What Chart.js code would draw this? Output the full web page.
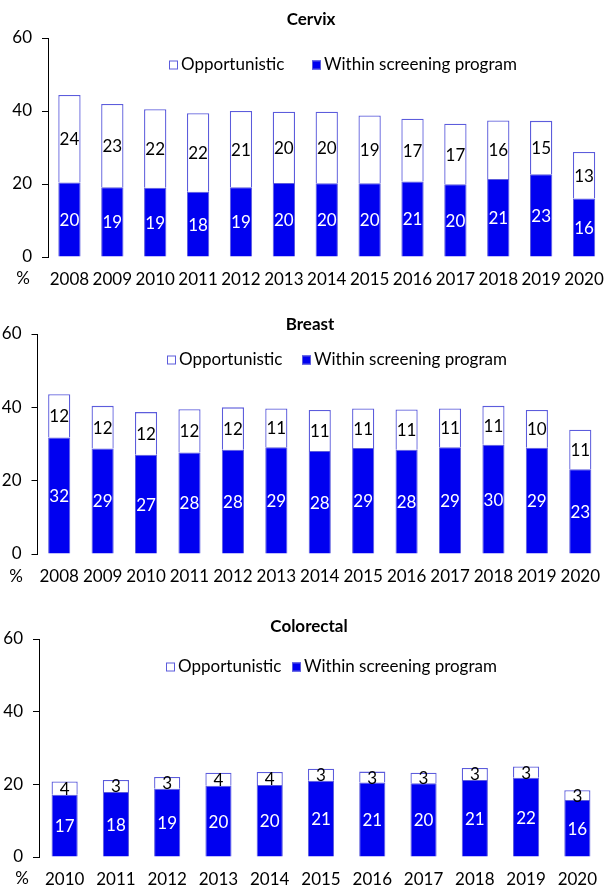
<!DOCTYPE html>
<html>
<head>
<meta charset="utf-8">
<script src="https://cdn.jsdelivr.net/npm/chart.js@4/dist/chart.umd.min.js"></script>
<style>
  body { margin: 0; background: #fff; }
  .box { position: absolute; left: 0; width: 616px; }
</style>
</head>
<body>
<div class="box" style="top:0;height:296px"><canvas id="cervixChart"></canvas></div>
<div class="box" style="top:296px;height:300px"><canvas id="breastChart"></canvas></div>
<div class="box" style="top:596px;height:300px"><canvas id="colorectalChart"></canvas></div>
<script>
// ===== Data =====
const cervixYears = ["2008", "2009", "2010", "2011", "2012", "2013", "2014", "2015", "2016", "2017", "2018", "2019", "2020"];
const cervixWithin = [20.4, 19.1, 19.0, 17.9, 19.1, 20.3, 20.2, 20.2, 20.7, 19.9, 21.4, 22.7, 16.0];
const cervixOpp = [24.0, 22.8, 21.5, 21.5, 20.9, 19.5, 19.6, 18.6, 17.2, 16.6, 16.0, 14.6, 12.8];

const breastYears = ["2008", "2009", "2010", "2011", "2012", "2013", "2014", "2015", "2016", "2017", "2018", "2019", "2020"];
const breastWithin = [31.8, 28.8, 27.1, 27.7, 28.4, 29.1, 28.1, 28.9, 28.4, 29.1, 29.8, 29.0, 23.1];
const breastOpp = [11.8, 11.6, 11.6, 11.8, 11.6, 10.6, 11.2, 10.8, 11.0, 10.6, 10.6, 10.3, 10.8];

const colorectalYears = ["2010", "2011", "2012", "2013", "2014", "2015", "2016", "2017", "2018", "2019", "2020"];
const colorectalWithin = [17.1, 17.9, 18.8, 19.6, 19.8, 21.0, 20.5, 20.3, 21.2, 21.8, 15.7];
const colorectalOpp = [3.7, 3.3, 3.2, 3.6, 3.6, 3.3, 3.0, 2.9, 3.3, 3.1, 2.7];

const yTicks = [0, 20, 40, 60];

const FONT = "Lato, 'Open Sans', sans-serif";
const SIZE = 17;
const BLUE = "#0000F0";
const EDGE = "#5C5CDC";

// ===== Overlay: title, legend, segment labels, % sign =====
const overlay = {
  id: "overlay",
  afterDatasetsDraw(chart, args, o) {
    const ctx = chart.ctx;
    ctx.save();

    // segment labels
    ctx.font = SIZE + "px " + FONT;
    ctx.textAlign = "center";
    ctx.textBaseline = "middle";
    chart.data.datasets.forEach((ds, i) => {
      chart.getDatasetMeta(i).data.forEach((bar, j) => {
        ctx.fillStyle = ds.labelColor;
        ctx.fillText(Math.round(ds.data[j]), bar.x, (bar.y + bar.base) / 2 + 1);
      });
    });

    // title
    ctx.fillStyle = "#000";
    ctx.font = "bold " + SIZE + "px " + FONT;
    ctx.fillText(o.title, o.titleX, o.titleY);

    // legend (top dataset first)
    ctx.font = SIZE + "px " + FONT;
    ctx.textAlign = "left";
    const items = chart.data.datasets.slice().reverse();
    items.forEach((ds, k) => {
      const x = o.legendX[k];
      const y = o.legendY;
      ctx.fillStyle = ds.backgroundColor;
      ctx.fillRect(x, y - 4.5, 9, 9);
      ctx.strokeStyle = EDGE;
      ctx.lineWidth = 1;
      ctx.strokeRect(x + 0.5, y - 4, 8, 8);
      ctx.fillStyle = "#000";
      ctx.fillText(ds.label, x + 12, y);
    });

    // % under the y axis
    ctx.textAlign = "center";
    ctx.fillText("%", o.pctX, chart.scales.x.top + o.pctDy);
    ctx.restore();
  }
};

function makeChart(id, years, within, opp, cfg) {
  return new Chart(document.getElementById(id), {
    type: "bar",
    data: {
      labels: years,
      datasets: [
        {
          label: "Within screening program",
          data: within,
          backgroundColor: BLUE,
          borderColor: EDGE,
          borderWidth: 1,
          labelColor: "#fff",
          barPercentage: cfg.barPct,
          categoryPercentage: 1
        },
        {
          label: "Opportunistic",
          data: opp,
          backgroundColor: "#fff",
          borderColor: EDGE,
          borderWidth: 1.3,
          labelColor: "#000",
          barPercentage: cfg.barPct,
          categoryPercentage: 1
        }
      ]
    },
    options: {
      responsive: true,
      maintainAspectRatio: false,
      animation: false,
      layout: { padding: { top: cfg.top, right: cfg.right, left: 0, bottom: 0 } },
      plugins: {
        legend: { display: false },
        tooltip: { enabled: false },
        overlay: cfg.overlay
      },
      scales: {
        x: {
          stacked: true,
          grid: { display: false, drawTicks: false },
          border: { display: false },
          ticks: { color: "#000", font: { family: FONT, size: SIZE }, padding: 12, maxRotation: 0, autoSkip: false },
          afterFit: (s) => { s.height = cfg.xHeight; }
        },
        y: {
          stacked: true,
          min: 0,
          max: 60,
          afterBuildTicks: (s) => { s.ticks = yTicks.map(v => ({ value: v })); },
          ticks: { color: "#000", font: { family: FONT, size: SIZE }, padding: 10 },
          grid: { drawOnChartArea: false, tickLength: 6, color: "#000" },
          border: { color: "#000" },
          afterFit: (s) => { s.width = cfg.yWidth; }
        }
      }
    },
    plugins: [overlay]
  });
}

makeChart("cervixChart", cervixYears, cervixWithin, cervixOpp, {
  barPct: 0.52, top: 38, right: 6, xHeight: 39, yWidth: 48,
  overlay: { title: "Cervix", titleX: 311, titleY: 20, legendX: [169, 312], legendY: 65, pctX: 23, pctDy: 22 }
});

makeChart("breastChart", breastYears, breastWithin, breastOpp, {
  barPct: 0.51, top: 38, right: 14, xHeight: 42, yWidth: 37.5,
  overlay: { title: "Breast", titleX: 310, titleY: 29, legendX: [167, 302], legendY: 64, pctX: 16, pctDy: 23 }
});

makeChart("colorectalChart", colorectalYears, colorectalWithin, colorectalOpp, {
  barPct: 0.51, top: 43, right: 13, xHeight: 39, yWidth: 39,
  overlay: { title: "Colorectal", titleX: 309, titleY: 31, legendX: [166, 292], legendY: 71, pctX: 22, pctDy: 22 }
});
</script>
</body>
</html>
